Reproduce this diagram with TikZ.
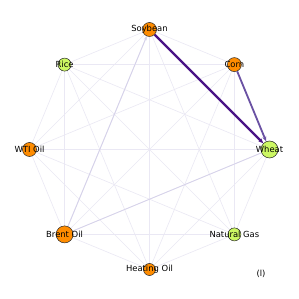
\documentclass[tikz,border=0pt]{standalone}
\usepackage{fontspec}
\setmainfont{DejaVu Sans}
\usetikzlibrary{backgrounds,arrows.meta}
\definecolor{orn}{HTML}{FF8C00}
\definecolor{grn}{HTML}{CCF763}
\definecolor{faint}{HTML}{EAE8F4}
\definecolor{mid}{HTML}{D6D2EA}
\definecolor{deep}{HTML}{4A1486}
\definecolor{med}{HTML}{6A51A3}
\begin{document}
\begin{tikzpicture}[x=1pt,y=1pt,
  font=\fontsize{8.4}{10}\selectfont,
  vert/.style={circle,draw=black!85,line width=0.5pt,inner sep=0pt,minimum size=#1},
  lbl/.style={inner sep=0pt,text=black},
  edge/.style={draw=faint,line width=0.6pt},
  tip/.style={-{Stealth[length=5pt,width=4pt]}}]
\useasboundingbox (0,0) rectangle (299,299);
% vertices
\node[vert=14,fill=orn] (soy)   at (149.5,269.5) {};
\node[vert=14,fill=orn] (corn)  at (234.4,234.4) {};
\node[vert=17,fill=grn] (wheat) at (269.5,149.5) {};
\node[vert=13,fill=grn] (gas)   at (234.4,64.6) {};
\node[vert=12,fill=orn] (heat)  at (149.5,29.5) {};
\node[vert=17,fill=orn] (brent) at (64.6,64.6) {};
\node[vert=14,fill=orn] (wti)   at (29.5,149.5) {};
\node[vert=13,fill=grn] (rice)  at (64.6,234.4) {};
% labels
\node[lbl] (soyl)   at (soy)   {Soybean};
\node[lbl] (cornl)  at (corn)  {Corn};
\node[lbl] (wheatl) at (wheat) {Wheat};
\node[lbl] (gasl)   at (gas)   {Natural Gas};
\node[lbl] (heatl)  at (heat)  {Heating Oil};
\node[lbl] (brentl) at (brent) {Brent Oil};
\node[lbl] (wtil)   at (wti)   {WTI Oil};
\node[lbl] (ricel)  at (rice)  {Rice};
\node[lbl] (tag) at (261,25) {(l)};
\begin{pgfonlayer}{background}
  \fill[white] (0,0) rectangle (299,299);
  \foreach \a [count=\i] in {soy,corn,wheat,gas,heat,brent,wti,rice}{
    \foreach \b [count=\j] in {soy,corn,wheat,gas,heat,brent,wti,rice}{
      \ifnum\j>\i \draw[edge] (\a.center) -- (\b.center); \fi
    }
  }
  \draw[draw=mid,line width=0.8pt] (brent.center) -- (wheat.center);
\end{pgfonlayer}
\draw[mid,line width=0.9pt,-{Stealth[length=4pt,width=3pt]}] (brent) -- (soy);
\draw[deep,line width=2.2pt,tip] (soy) -- (wheat);
\draw[med,line width=1.8pt,tip] (corn) -- (wheat);
\end{tikzpicture}
\end{document}
